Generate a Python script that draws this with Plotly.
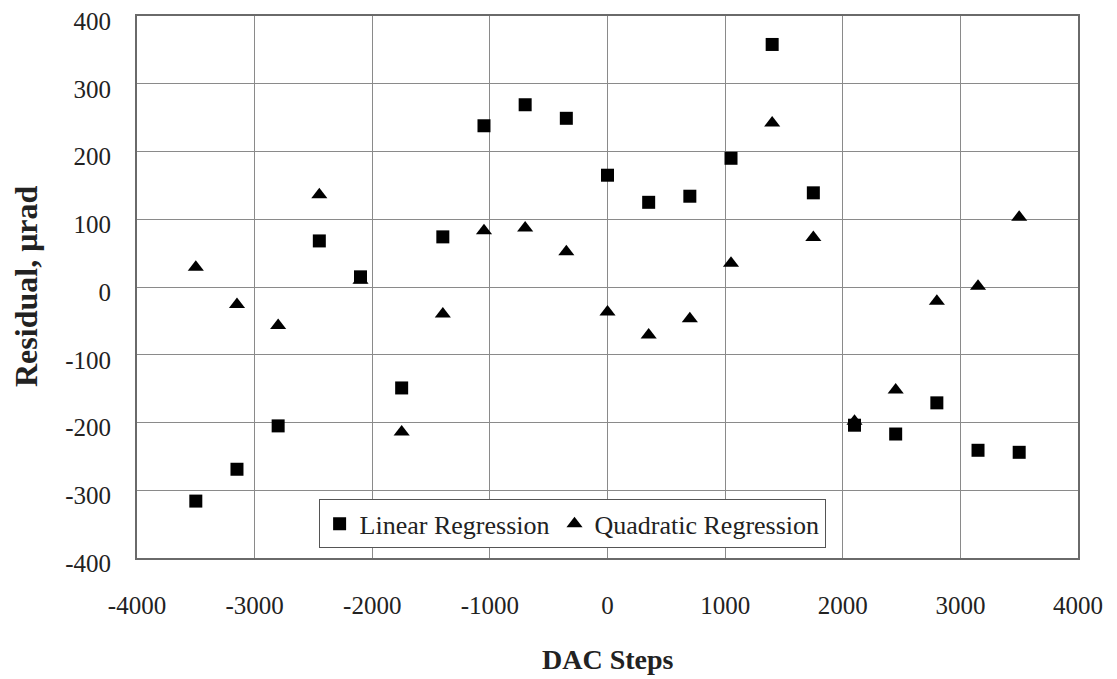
import plotly.graph_objects as go

dac_steps = [-3500, -3150, -2800, -2450, -2100, -1750, -1400, -1050, -700, -350, 0,
             350, 700, 1050, 1400, 1750, 2100, 2450, 2800, 3150, 3500]
linear_resid = [-316, -269, -205, 68, 15, -149, 74, 238, 269, 249, 165,
                125, 134, 190, 358, 139, -204, -217, -171, -241, -244]
quad_resid = [29, -26, -57, 136, 10, -214, -40, 83, 87, 52, -37,
              -71, -47, 35, 242, 73, -198, -152, -21, 1, 103]

x_ticks = [-4000, -3000, -2000, -1000, 0, 1000, 2000, 3000, 4000]
y_ticks = [-400, -300, -200, -100, 0, 100, 200, 300, 400]
x_ticktext = [str(v) for v in x_ticks]
y_ticktext = [str(v) for v in y_ticks]

font_family = "Liberation Serif, Times New Roman, serif"

fig = go.Figure()
fig.add_trace(go.Scatter(
    x=dac_steps, y=quad_resid, mode="markers", name="Quadratic Regression",
    marker=dict(symbol="triangle-up", size=14, color="black"),
    legendrank=2))
fig.add_trace(go.Scatter(
    x=dac_steps, y=linear_resid, mode="markers", name="Linear Regression",
    marker=dict(symbol="square", size=13, color="black"),
    legendrank=1))

axis_common = dict(
    showgrid=True, gridcolor="#8a8a8a", gridwidth=1,
    showline=True, linecolor="#6a6a6a", linewidth=2, mirror=True,
    zeroline=False, ticks="", automargin=False, ticklabeloverflow="allow",
    tickfont=dict(family=font_family, size=25, color="#222"),
)

fig.update_layout(
    width=1117, height=679,
    margin=dict(l=129, r=47, t=8, b=129),
    paper_bgcolor="white", plot_bgcolor="white",
    font=dict(family=font_family, color="#222"),
    xaxis=dict(range=[-4000, 4000], tickvals=x_ticks, ticktext=x_ticktext,
               ticklabelstandoff=24, **axis_common),
    yaxis=dict(range=[-400, 400], tickvals=y_ticks, ticktext=y_ticktext,
               ticklabelstandoff=19, ticklabelshift=5, **axis_common),
    legend=dict(orientation="h", x=0.193, y=0.108, xanchor="left", yanchor="top",
                bgcolor="white", bordercolor="#555", borderwidth=1,
                font=dict(family=font_family, size=26, color="#222"),
                traceorder="normal"),
    showlegend=True,
    annotations=[
        dict(text="<b>DAC Steps</b>", xref="paper", yref="paper", x=0.5, y=0,
             xanchor="center", yanchor="middle", yshift=-101, showarrow=False,
             font=dict(family=font_family, size=28, color="#222")),
        dict(text="<b>Residual, μrad</b>", xref="paper", yref="paper", x=0, y=0.5,
             xanchor="center", yanchor="middle", xshift=-111, textangle=-90,
             showarrow=False,
             font=dict(family=font_family, size=32, color="#222")),
    ],
)

fig.write_html("out.html")
